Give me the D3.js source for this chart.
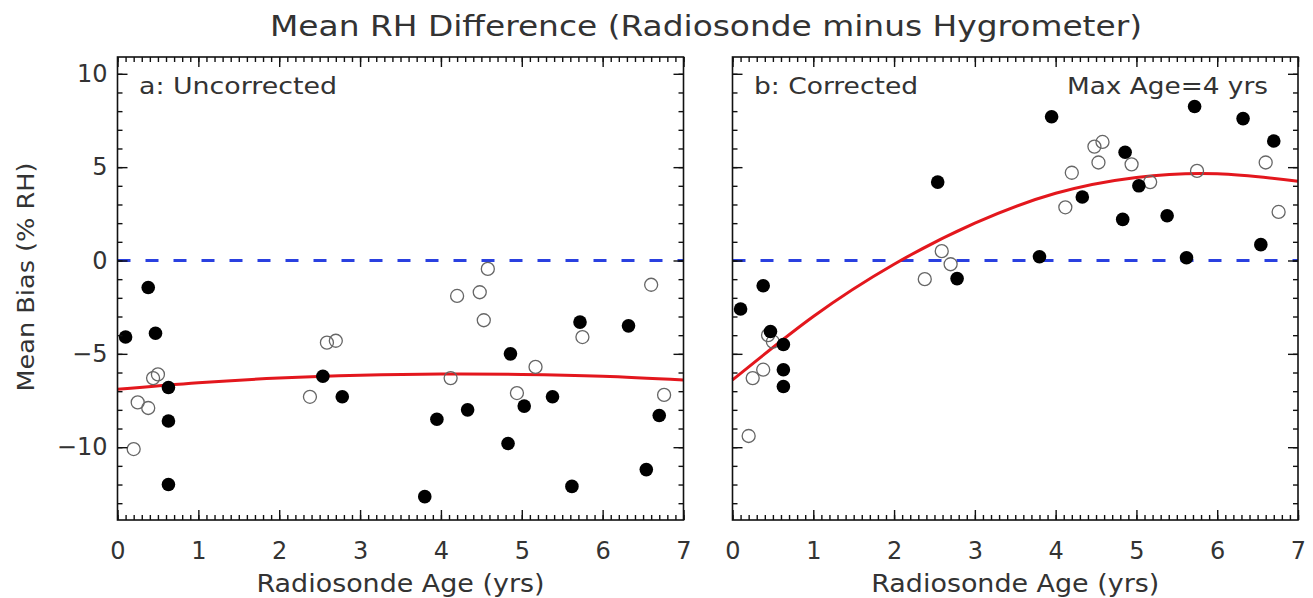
<!DOCTYPE html>
<html lang="en">

<head>
    <meta charset="UTF-8">
    <title>Mean RH Difference</title>
    <script src="https://d3js.org/d3.v7.min.js"></script>
    <style>
        body { margin: 0; background: #fff; }
        text { font-family: "DejaVu Sans", sans-serif; fill: #333; }
    </style>
</head>

<body>
    <script>
        var width = 1313, height = 598;

        // radiosonde ages (yrs) of the stations, same in both panels
        var filledAge = [0.1, 0.38, 0.47, 0.63, 0.63, 0.63, 2.54, 2.78, 3.8, 3.95,
            4.33, 4.83, 4.86, 5.03, 5.38, 5.62, 5.72, 6.32, 6.54, 6.7];
        var filledUncorrected = [-4.1, -1.45, -3.9, -6.8, -8.6, -12.0, -6.2, -7.3, -12.65, -8.5,
            -8.0, -9.8, -5.0, -7.8, -7.3, -12.1, -3.3, -3.5, -11.2, -8.3];
        var filledCorrected = [-2.6, -1.35, -3.8, -4.5, -5.85, -6.75, 4.2, -0.97, 0.2, 7.7,
            3.4, 2.2, 5.8, 4.0, 2.4, 0.15, 8.25, 7.6, 0.85, 6.4];

        var openAge = [0.2, 0.25, 0.38, 0.44, 0.5, 2.38, 2.59, 2.7, 4.12, 4.2,
            4.48, 4.53, 4.58, 4.94, 5.17, 5.75, 6.6, 6.76];
        var openUncorrected = [-10.1, -7.6, -7.9, -6.3, -6.1, -7.3, -4.4, -4.3, -6.3, -1.9,
            -1.7, -3.2, -0.45, -7.1, -5.7, -4.1, -1.3, -7.2];
        var openCorrected = [-9.4, -6.3, -5.85, -4.0, -4.35, -1.0, 0.5, -0.2, 2.85, 4.7,
            6.1, 5.25, 6.35, 5.15, 4.2, 4.8, 5.25, 2.6];

        var fitAge = [0, 1, 2, 3, 4, 5, 6, 7];
        var fitUncorrected = [-6.9, -6.55, -6.3, -6.15, -6.08, -6.1, -6.2, -6.4];
        var fitCorrected = [-6.4, -3.0, -0.2, 2.0, 3.6, 4.45, 4.65, 4.25];

        var xTicks = [0, 1, 2, 3, 4, 5, 6, 7];
        var yTicks = [-10, -5, 0, 5, 10];

        var plotTop = 57, plotBottom = 520;

        var svg = d3.select('body').append('svg')
            .attr('width', width).attr('height', height);

        svg.append('text')
            .attr('x', 706).attr('y', 36)
            .attr('text-anchor', 'middle')
            .attr('font-size', 28)
            .attr('textLength', 872).attr('lengthAdjust', 'spacingAndGlyphs')
            .text('Mean RH Difference (Radiosonde minus Hygrometer)');

        svg.append('text')
            .attr('transform', 'translate(34,277) rotate(-90)')
            .attr('text-anchor', 'middle')
            .attr('font-size', 23)
            .attr('textLength', 229).attr('lengthAdjust', 'spacingAndGlyphs')
            .text('Mean Bias (% RH)');

        function zip(a, b) {
            return a.map(function (d, i) { return [d, b[i]]; });
        }

        function drawPanel(left, right, cfg) {
            var x = d3.scaleLinear().domain([0, 7]).range([left, right]);
            var y = d3.scaleLinear().domain([-13.9, 10.9]).range([plotBottom, plotTop]);
            var g = svg.append('g');

            // zero line
            g.append('line')
                .attr('x1', x(0)).attr('x2', x(7))
                .attr('y1', y(0)).attr('y2', y(0))
                .attr('stroke', '#2a40e0').attr('stroke-width', 3.2)
                .attr('stroke-dasharray', '13,15');

            // fit
            g.append('path')
                .datum(zip(fitAge, cfg.fit))
                .attr('fill', 'none')
                .attr('stroke', '#e3171d').attr('stroke-width', 3)
                .attr('d', d3.line()
                    .x(function (d) { return x(d[0]); })
                    .y(function (d) { return y(d[1]); })
                    .curve(d3.curveNatural));

            g.selectAll('circle.open').data(zip(openAge, cfg.open))
                .join('circle')
                .attr('class', 'open')
                .attr('cx', function (d) { return x(d[0]); })
                .attr('cy', function (d) { return y(d[1]); })
                .attr('r', 6.5)
                .attr('fill', 'none')
                .attr('stroke', '#666').attr('stroke-width', 1.3);

            g.selectAll('circle.filled').data(zip(filledAge, cfg.filled))
                .join('circle')
                .attr('class', 'filled')
                .attr('cx', function (d) { return x(d[0]); })
                .attr('cy', function (d) { return y(d[1]); })
                .attr('r', 6.8)
                .attr('fill', '#000');

            // ticks on all four sides, pointing inwards
            var minorX = d3.range(0, 70.5, 1).map(function (d) { return d / 10; });
            var minorY = d3.range(-13, 11, 1);
            var sides = [
                { axis: d3.axisBottom, pos: 'translate(0,' + plotBottom + ')', scale: x, minor: minorX, major: xTicks, labels: true },
                { axis: d3.axisTop, pos: 'translate(0,' + plotTop + ')', scale: x, minor: minorX, major: xTicks, labels: false },
                { axis: d3.axisLeft, pos: 'translate(' + left + ',0)', scale: y, minor: minorY, major: yTicks, labels: cfg.yLabels },
                { axis: d3.axisRight, pos: 'translate(' + right + ',0)', scale: y, minor: minorY, major: yTicks, labels: false }
            ];
            sides.forEach(function (s) {
                var isX = s.scale === x;
                g.append('g').attr('transform', s.pos)
                    .call(s.axis(s.scale).tickValues(s.minor).tickSize(-5).tickSizeOuter(0).tickFormat(''))
                    .call(function (a) { a.select('.domain').remove(); });
                var major = g.append('g').attr('transform', s.pos)
                    .call(s.axis(s.scale).tickValues(s.major).tickSize(-10).tickSizeOuter(0)
                        .tickPadding(isX ? 22 : 10)
                        .tickFormat(s.labels ? d3.format('d') : ''))
                    .call(function (a) { a.select('.domain').remove(); });
                major.selectAll('text').attr('font-size', 24);
                g.selectAll('.tick line').attr('stroke', '#111').attr('stroke-width', 1.4);
            });

            g.append('rect')
                .attr('x', left).attr('y', plotTop)
                .attr('width', right - left).attr('height', plotBottom - plotTop)
                .attr('fill', 'none').attr('stroke', '#111').attr('stroke-width', 1.6);

            g.append('text')
                .attr('x', (left + right) / 2).attr('y', 592)
                .attr('text-anchor', 'middle')
                .attr('font-size', 24)
                .attr('textLength', 288).attr('lengthAdjust', 'spacingAndGlyphs')
                .text('Radiosonde Age (yrs)');

            cfg.notes.forEach(function (n) {
                g.append('text')
                    .attr('x', n.x).attr('y', 94)
                    .attr('font-size', 23)
                    .attr('textLength', n.w).attr('lengthAdjust', 'spacingAndGlyphs')
                    .text(n.text);
            });
        }

        drawPanel(117.5, 683.5, {
            filled: filledUncorrected, open: openUncorrected, fit: fitUncorrected, yLabels: true,
            notes: [{ text: 'a: Uncorrected', x: 139, w: 198 }]
        });
        drawPanel(732.5, 1298, {
            filled: filledCorrected, open: openCorrected, fit: fitCorrected, yLabels: false,
            notes: [{ text: 'b: Corrected', x: 754, w: 164 }, { text: 'Max Age=4 yrs', x: 1067, w: 201 }]
        });
    </script>
</body>

</html>
